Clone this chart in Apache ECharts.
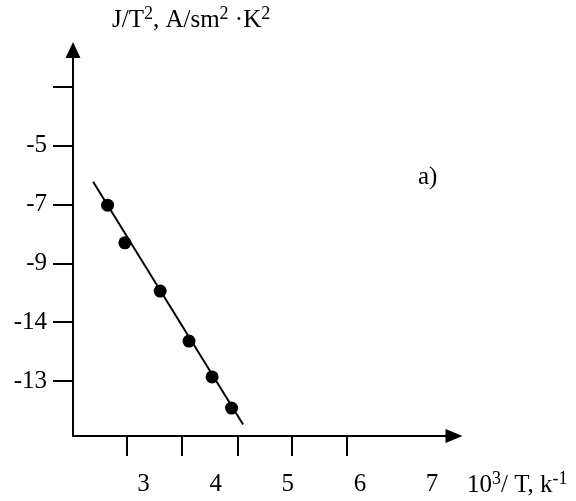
<!DOCTYPE html>
<html>
<head>
<meta charset="utf-8">
<script src="https://cdn.jsdelivr.net/npm/echarts@6/dist/echarts.min.js"></script>
<style>
  html, body { margin: 0; padding: 0; background: #fff; }
  #main { width: 576px; height: 501px; }
</style>
</head>
<body>
<div id="main"></div>
<script>
// x in label units (10^3/T), y in tick-index units (1 = lowest tick)
var pointX = [2.50, 2.74, 3.23, 3.63, 3.95, 4.22];
var pointY = [3.99, 3.35, 2.53, 1.68, 1.07, 0.54];
var lineX = [2.30, 4.38];
var lineY = [4.39, 0.26];

var xLabelValues = [3, 4, 5, 6, 7];
var xTickValues = [2.76, 3.53, 4.30, 5.06, 5.82];
var yTickValues = [1, 2, 3, 4, 5, 6];
var yLabelValues = [1, 2, 3, 4, 5];
var yTickLabels = ['-13', '-14', '-9', '-7', '-5'];

var FONT = 'Liberation Serif';
var SIZE = 25;

function pairs(xs, ys) {
	var out = [];
	for (var i = 0; i < xs.length; i++) out.push([xs[i], ys[i]]);
	return out;
}

var richSup = {
	b: { fontFamily: FONT, fontSize: SIZE, color: '#000', lineHeight: 28, verticalAlign: 'bottom' },
	s: { fontFamily: FONT, fontSize: 18, color: '#000', lineHeight: 17, verticalAlign: 'top' }
};

var myChart = echarts.init(document.getElementById('main'));
var option = {
	animation: false,
	backgroundColor: '#fff',
	textStyle: { fontFamily: FONT, color: '#000' },
	title: {
		text: 'a)',
		left: 413,
		top: 160,
		textStyle: { fontFamily: FONT, fontSize: SIZE, fontWeight: 'normal', color: '#000' }
	},
	grid: { left: 73, right: 122, top: 50, bottom: 65 },
	xAxis: {
		type: 'value',
		min: 2.021,
		max: 7.305,
		name: '{b|10}{s|3}{b|/ T, k}{s|-1}',
		nameLocation: 'end',
		nameGap: 13,
		nameTextStyle: {
			verticalAlign: 'top',
			align: 'left',
			padding: [34, 0, 0, 0],
			rich: richSup
		},
		axisLine: {
			lineStyle: { color: '#000', width: 2 },
			symbol: ['none', 'triangle'],
			symbolSize: [14, 17]
		},
		axisTick: {
			show: true,
			length: 20,
			lineStyle: { color: '#000', width: 2 },
			customValues: xTickValues
		},
		axisLabel: {
			customValues: xLabelValues,
			margin: 36,
			fontFamily: FONT,
			fontSize: SIZE,
			color: '#000'
		},
		splitLine: { show: false }
	},
	yAxis: {
		type: 'value',
		min: 0.065,
		max: 6.629,
		name: '{b|J/T}{s|2}{b|, A/sm}{s|2}{b| ·K}{s|2}',
		nameLocation: 'end',
		nameGap: 17,
		nameTextStyle: {
			align: 'left',
			padding: [0, 0, 0, 39],
			rich: richSup
		},
		axisLine: {
			show: true,
			lineStyle: { color: '#000', width: 2 },
			symbol: ['none', 'triangle'],
			symbolSize: [15, 16]
		},
		axisTick: {
			show: true,
			length: 20,
			lineStyle: { color: '#000', width: 2 },
			customValues: yTickValues
		},
		axisLabel: {
			customValues: yLabelValues,
			margin: 26,
			fontFamily: FONT,
			fontSize: SIZE,
			color: '#000',
			formatter: function (v) {
				var i = yLabelValues.indexOf(Math.round(v));
				return i >= 0 ? yTickLabels[i] : '';
			}
		},
		splitLine: { show: false }
	},
	series: [
		{
			type: 'line',
			data: pairs(lineX, lineY),
			symbol: 'none',
			lineStyle: { color: '#000', width: 2 },
			z: 2
		},
		{
			type: 'scatter',
			data: pairs(pointX, pointY),
			symbol: 'circle',
			symbolSize: 13,
			itemStyle: { color: '#000', opacity: 1 },
			z: 3
		}
	]
};
myChart.setOption(option);
</script>
</body>
</html>
